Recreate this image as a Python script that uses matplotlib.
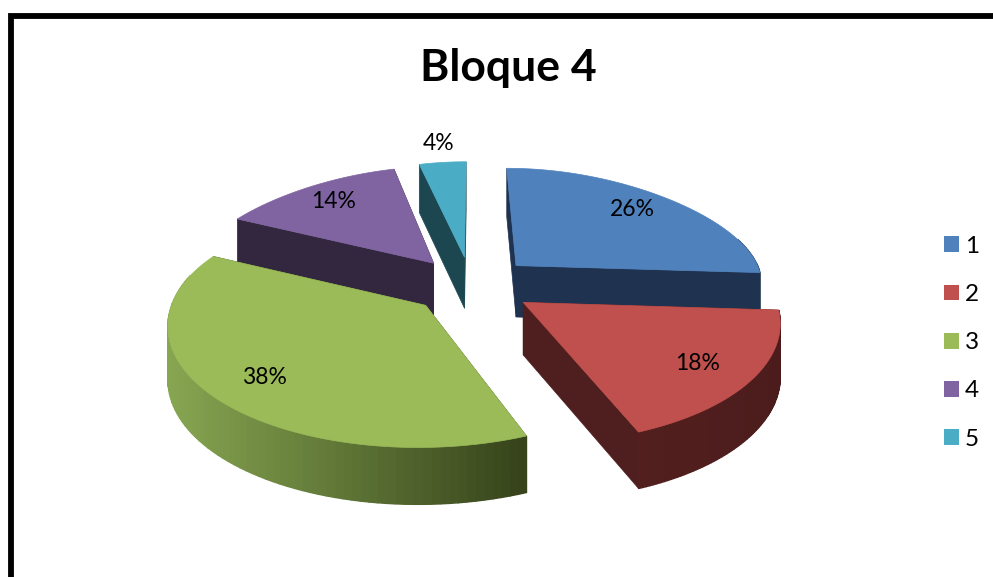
import numpy as np
import matplotlib
matplotlib.use("Agg")
import matplotlib.pyplot as plt
from matplotlib.patches import Patch

# datos
categorias = ['1', '2', '3', '4', '5']
valores = [26, 18, 38, 14, 4]
colores = ['#4F81BD', '#C0504D', '#9BBB59', '#8064A2', '#4BACC6']
cortes = ['#1F3350', '#4F1E1E', '#3A4A1F', '#33273F', '#1D4750']
# color de la pared exterior: izquierda, derecha
paredes = [('#1F3350', '#1F3350'), ('#521F1E', '#4C1C1C'), ('#87A651', '#35421A'),
           ('#33273F', '#33273F'), ('#1D4750', '#1D4750')]
pos_etiquetas = [(632, 210), (698, 364), (264, 378), (334, 201), (439, 143)]

# proyeccion en perspectiva del disco a pixeles
CX, CY = 472, 285
A, B = 248, 116
K = 0.14
K_FONDO = 0.10  # el fondo se estrecha mas en horizontal
PROF = 52
EXPL = 0.25


def proyectar(u, v, z=0):
    v = np.asarray(v, dtype=float)
    s = 1 / (1 + K * v)
    sx = 1 / (1 + K * v + K_FONDO * np.maximum(v, 0) ** 2)
    return CX + A * u * sx, CY - B * v * s + PROF * z * np.sqrt(s)


def mezcla(c1, c2, t):
    a = np.array(matplotlib.colors.to_rgb(c1))
    b = np.array(matplotlib.colors.to_rgb(c2))
    return tuple(a + (b - a) * t)


fig = plt.figure(figsize=(9.93, 5.77), dpi=100)
ax = fig.add_axes([0, 0, 1, 1])
ax.set_xlim(0, 993)
ax.set_ylim(577, 0)
ax.axis('off')

# marco negro, cortado a la derecha y abajo
ax.plot([11, 11, 993], [577, 15.5, 15.5], color='black', lw=4.2, solid_joinstyle='miter')

total = sum(valores)
acum = np.cumsum([0] + valores) / total * 2 * np.pi


def dibujar(i):
    t0, t1 = acum[i], acum[i + 1]
    med = (t0 + t1) / 2
    ou, ov = EXPL * np.sin(med), EXPL * np.cos(med)
    t = np.linspace(t0, t1, 80)
    u = ou + np.sin(t)
    v = ov + np.cos(t)

    # caras del corte
    for ang in (t0, t1):
        eu, ev = ou + np.sin(ang), ov + np.cos(ang)
        p = [proyectar(ou, ov), proyectar(eu, ev), proyectar(eu, ev, 1), proyectar(ou, ov, 1)]
        ax.fill([q[0] for q in p], [q[1] for q in p], color=cortes[i], lw=0.5)

    # pared exterior por tramos, para el degradado
    xt, yt = proyectar(u, v)
    xb, yb = proyectar(u, v, 1)
    xmin, xmax = xt.min(), xt.max()
    for j in range(len(t) - 1):
        if np.cos((t[j] + t[j + 1]) / 2) > 0.25:
            continue
        f = ((xt[j] + xt[j + 1]) / 2 - xmin) / (xmax - xmin)
        col = mezcla(paredes[i][0], paredes[i][1], f)
        ax.fill([xt[j], xt[j + 1], xb[j + 1], xb[j]], [yt[j], yt[j + 1], yb[j + 1], yb[j]],
                color=col, lw=1.0)

    # cara superior
    xa, ya = proyectar(ou, ov)
    ax.fill(np.r_[xa, xt], np.r_[ya, yt], color=colores[i], lw=0.5)


for i in [4, 3, 0, 2, 1]:
    dibujar(i)

for val, (x, y) in zip(valores, pos_etiquetas):
    ax.text(x, y, f'{val}%', family='Lato', fontsize=16.5, ha='center', va='center', color='black')

ax.text(508, 68, 'Bloque 4', family='Lato', fontsize=32, fontweight='bold', ha='center', va='center')

handles = [Patch(facecolor=c, edgecolor='none') for c in colores]
ax.legend(handles, categorias, loc='center left', bbox_to_anchor=(0.951, 0.406), frameon=False,
          prop={'family': 'Lato', 'size': 17.5}, handlelength=0.62, handleheight=0.62,
          handletextpad=0.22, labelspacing=1.12, borderpad=0, borderaxespad=0)

fig.savefig('out.png', dpi=100)
